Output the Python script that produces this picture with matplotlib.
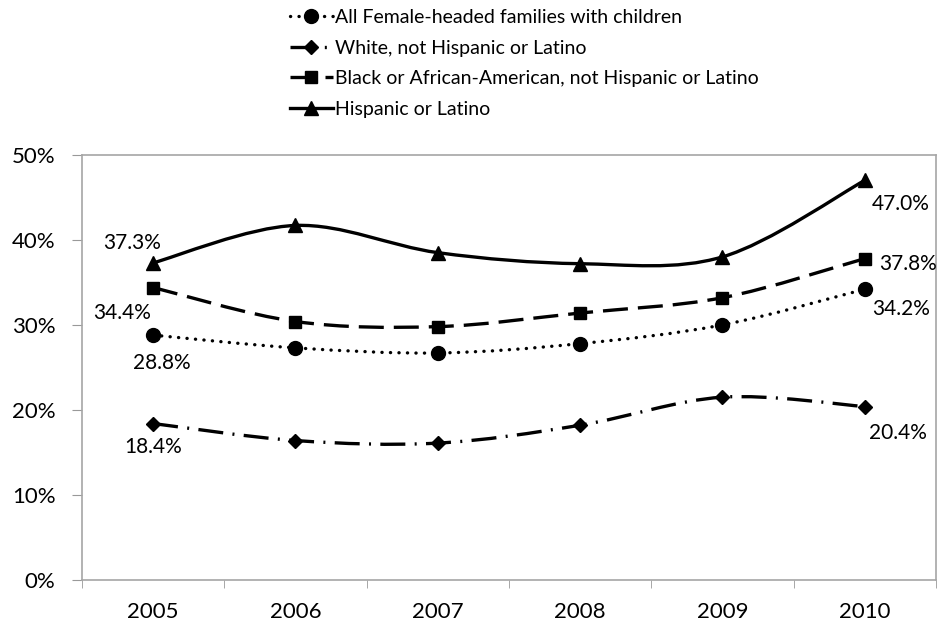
import numpy as np
import matplotlib
matplotlib.use("Agg")
import matplotlib.pyplot as plt
from matplotlib.path import Path
from matplotlib.patches import PathPatch
from matplotlib.lines import Line2D

plt.rcParams['font.family'] = ['Lato', 'DejaVu Sans']

years = ['2005', '2006', '2007', '2008', '2009', '2010']
all_female = [28.8, 27.3, 26.7, 27.8, 30.0, 34.2]
white = [18.4, 16.4, 16.1, 18.2, 21.5, 20.4]
black = [34.4, 30.4, 29.8, 31.4, 33.2, 37.8]
hispanic = [37.3, 41.7, 38.5, 37.2, 38.0, 47.0]

labels = ['All Female-headed families with children',
          'White, not Hispanic or Latino',
          'Black or African-American, not Hispanic or Latino',
          'Hispanic or Latino']


def smooth_path(xs, ys):
    # bezier segments through every point, like a spreadsheet "smoothed line"
    pts = np.column_stack([xs, ys]).astype(float)
    n = len(pts)
    verts = [pts[0]]
    codes = [Path.MOVETO]
    for i in range(n - 1):
        p0 = pts[max(i - 1, 0)]
        p1 = pts[i]
        p2 = pts[i + 1]
        p3 = pts[min(i + 2, n - 1)]
        c1 = p1 + (p2 - p0) / 6.0
        c2 = p2 - (p3 - p1) / 6.0
        verts += [c1, c2, p2]
        codes += [Path.CURVE4] * 3
    return Path(verts, codes)


LW = 2.4
styles = [
    dict(ls=(0, (0.05, 2.5)), cap='round', marker='o', ms=10),
    dict(ls=(0, (7.5, 2.8, 0.6, 2.8)), cap='butt', marker='D', ms=7.5),
    dict(ls=(0, (7.5, 3)), cap='butt', marker='s', ms=8.5),
    dict(ls='-', cap='round', marker='^', ms=10),
]

fig = plt.figure(figsize=(9.4, 6.27), dpi=100)
ax = fig.add_axes([0.0872, 0.075, 0.9085, 0.678])

x = np.arange(len(years))
series = [all_female, white, black, hispanic]
handles = []
for vals, st, lab in zip(series, styles, labels):
    patch = PathPatch(smooth_path(x, vals), fill=False, edgecolor='black',
                      lw=LW, linestyle=st['ls'], capstyle=st['cap'], zorder=2)
    ax.add_patch(patch)
    ax.plot(x, vals, ls='none', marker=st['marker'], ms=st['ms'],
            color='black', zorder=3)
    handles.append(Line2D([], [], color='black', lw=LW, ls=st['ls'],
                          dash_capstyle=st['cap'], marker=st['marker'],
                          ms=st['ms']))

# value labels on the first and last year
first_offsets = [(6, -20), (0, -17), (-22, -18), (-15, 14)]
last_offsets = [(26, -14), (24, -19), (31, -4), (26, -17)]
for vals, o1, o2 in zip(series, first_offsets, last_offsets):
    ax.annotate(f'{vals[0]:.1f}%', (x[0], vals[0]), xytext=o1,
                textcoords='offset points', ha='center', va='center',
                fontsize=15)
    ax.annotate(f'{vals[-1]:.1f}%', (x[-1], vals[-1]), xytext=o2,
                textcoords='offset points', ha='center', va='center',
                fontsize=15)

ax.set_xlim(-0.5, len(years) - 0.5)
ax.set_ylim(0, 50)
ax.set_yticks(np.arange(0, 51, 10))
ax.set_yticklabels([f'{v}%' for v in range(0, 51, 10)], fontsize=16)
ax.set_xticks(x)
ax.set_xticklabels(years, fontsize=16)
ax.set_xticks(np.arange(-0.5, len(years), 1), minor=True)
ax.tick_params(axis='x', which='major', length=0, pad=16)
ax.tick_params(axis='x', which='minor', length=6, color='#999999')
ax.tick_params(axis='y', length=7, color='#999999', pad=12)
for s in ax.spines.values():
    s.set_color('#a6a6a6')
    s.set_linewidth(1.2)

fig.legend(handles, labels, loc='upper left', bbox_to_anchor=(0.300, 0.998),
           frameon=False, fontsize=14, handlelength=2.2,
           handletextpad=0.15, labelspacing=0.7, borderaxespad=0)

fig.savefig('out.png', dpi=100)
